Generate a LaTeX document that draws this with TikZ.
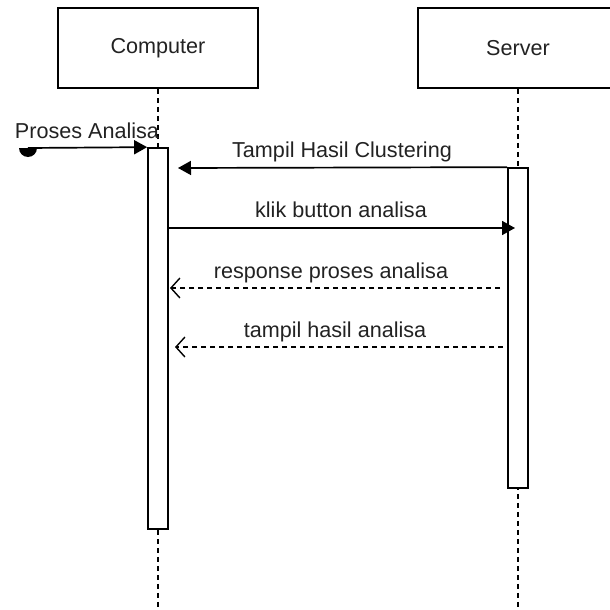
\documentclass[tikz,border=0pt]{standalone}
\usepackage{fontspec}
\setmainfont{Liberation Sans}
\usetikzlibrary{arrows.meta}
\definecolor{ink}{HTML}{222222}

\begin{document}
\begin{tikzpicture}[x=1pt, y=-1pt,
    actor/.style={draw, line width=1.7pt, minimum width=200pt, minimum height=80pt,
                  inner sep=0pt, font=\fontsize{21.6}{24}\selectfont, text=ink},
    actbar/.style={draw, fill=white, line width=1.7pt, minimum width=20pt, inner sep=0pt},
    life/.style={line width=1.7pt, dash pattern=on 5.4pt off 3.6pt},
    call/.style={line width=1.7pt, -{Triangle[length=13pt, width=14pt]}},
    reply/.style={line width=1.4pt, dash pattern=on 5.4pt off 3.6pt,
                  -{Straight Barb[length=9pt, width=20pt, line width=1.4pt]}},
    msglbl/.style={anchor=base, inner sep=0pt, font=\fontsize{21.6}{24}\selectfont, text=ink}
  ]
    \useasboundingbox (0,0) rectangle (610,610);

    % lifeline heads
    \node[actor] (computer) at (158,48) {Computer};
    \node[actor] (server) at (518,48) {Server};

    % lifelines
    \coordinate (cmpend) at (158,612);
    \coordinate (srvend) at (518,612);
    \draw[life] (computer.south) -- (cmpend);
    \draw[life] (server.south) -- (srvend);

    % activations
    \node[actbar, minimum height=381pt] (cmpbar) at (158,338.5) {};
    \node[actbar, minimum height=320pt] (srvbar) at (518,328) {};

    % found message
    \coordinate (found) at (28,148);
    \fill (found) ++(-9,0) arc[start angle=180, end angle=360, radius=9pt] -- cycle;
    \draw[call] (found) -- (cmpbar.north west);
    \node[msglbl] (lblfound) at (87,138) {Proses Analisa};

    % messages
    \coordinate (m1) at (178,168);
    \draw[call] (srvbar.north west) -- (m1);
    \node[msglbl] (lbl1) at (342,157) {Tampil Hasil Clustering};

    \coordinate (m2a) at (168,228);
    \coordinate (m2b) at (515,228);
    \draw[call] (m2a) -- (m2b);
    \node[msglbl] (lbl2) at (341,217) {klik button analisa};

    \coordinate (m3a) at (500,288);
    \coordinate (m3b) at (170,288);
    \draw[reply] (m3a) -- (m3b);
    \node[msglbl] (lbl3) at (331,278) {response proses analisa};

    \coordinate (m4a) at (503,347);
    \coordinate (m4b) at (175,347);
    \draw[reply] (m4a) -- (m4b);
    \node[msglbl] (lbl4) at (335,337) {tampil hasil analisa};
  \end{tikzpicture}
\end{document}
